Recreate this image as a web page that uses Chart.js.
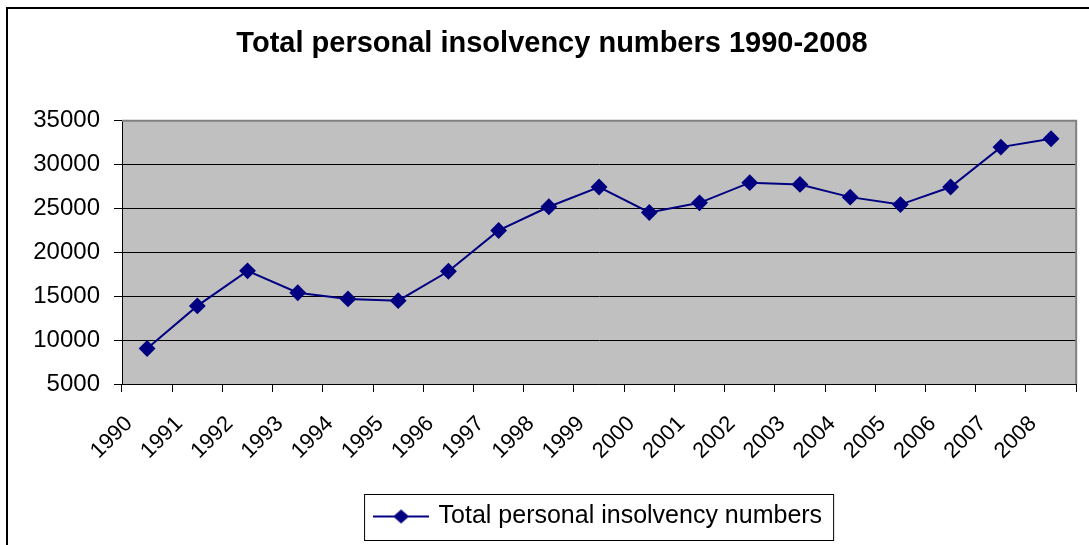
<!DOCTYPE html>
<html>
<head>
<meta charset="utf-8">
<script src="https://cdn.jsdelivr.net/npm/chart.js@4.4.1/dist/chart.umd.min.js"></script>
<style>
  html, body { margin: 0; padding: 0; background: #fff; }
  #wrap { position: relative; width: 1089px; height: 545px; }
</style>
</head>
<body>
<div id="wrap"><canvas id="chart" width="1089" height="545"></canvas></div>
<script>
const years = ['1990', '1991', '1992', '1993', '1994', '1995', '1996', '1997', '1998', '1999',
  '2000', '2001', '2002', '2003', '2004', '2005', '2006', '2007', '2008']
const insolvencies = [9050, 13900, 17900, 15400, 14700, 14500, 17850, 22500, 25200, 27450,
  24550, 25650, 27950, 27750, 26300, 25450, 27450, 32000, 32950]
const yTicks = [5000, 10000, 15000, 20000, 25000, 30000, 35000]

const NAVY = '#000080'
const FONT = 'Liberation Sans, Arial, sans-serif'

// legend sample: short line with a diamond in the middle
function legendSample() {
  const c = document.createElement('canvas')
  c.width = 56
  c.height = 18
  const g = c.getContext('2d')
  g.strokeStyle = NAVY
  g.lineWidth = 2
  g.beginPath()
  g.moveTo(0, 9)
  g.lineTo(56, 9)
  g.stroke()
  g.fillStyle = NAVY
  g.beginPath()
  g.moveTo(28, 2)
  g.lineTo(36, 9)
  g.lineTo(28, 16)
  g.lineTo(20, 9)
  g.closePath()
  g.fill()
  return c
}

const plotBackdrop = {
  id: 'plotBackdrop',
  beforeDraw(chart) {
    const { ctx, chartArea: a } = chart
    ctx.save()
    ctx.fillStyle = '#C0C0C0'
    ctx.fillRect(a.left, a.top, a.right - a.left, a.bottom - a.top)
    ctx.restore()
  },
  afterDraw(chart) {
    const { ctx, chartArea: a } = chart
    ctx.save()
    // grey frame top + right of plot
    ctx.strokeStyle = '#808080'
    ctx.lineWidth = 2
    ctx.beginPath()
    ctx.moveTo(a.left, a.top)
    ctx.lineTo(a.right, a.top)
    ctx.lineTo(a.right, a.bottom)
    ctx.stroke()
    // outer chart frame (only left/top are in view)
    ctx.strokeStyle = '#000'
    ctx.lineWidth = 2
    ctx.beginPath()
    ctx.moveTo(7, chart.height)
    ctx.lineTo(7, 8)
    ctx.lineTo(chart.width, 8)
    ctx.stroke()
    // legend box
    const hb = chart.legend.legendHitBoxes[0]
    if (hb) {
      ctx.strokeStyle = '#000'
      ctx.lineWidth = 1
      const cy = hb.top + hb.height / 2
      ctx.strokeRect(hb.left - 11.5, Math.round(cy - 23) + 0.5, hb.width + 23, 46)
    }
    ctx.restore()
  }
}

const sample = legendSample()

new Chart(document.getElementById('chart'), {
  type: 'line',
  data: {
    labels: years,
    datasets: [{
      label: 'Total personal insolvency numbers',
      data: insolvencies,
      borderColor: NAVY,
      backgroundColor: NAVY,
      borderWidth: 2,
      pointStyle: 'rectRot',
      pointRadius: 7,
      pointHoverRadius: 7,
      pointBackgroundColor: NAVY,
      pointBorderColor: NAVY,
      tension: 0,
    }],
  },
  options: {
    responsive: false,
    animation: false,
    layout: { padding: { left: 15, right: 0, top: 0, bottom: 6 } },
    plugins: {
      title: {
        display: true,
        text: 'Total personal insolvency numbers 1990-2008',
        color: '#000',
        font: { family: FONT, size: 29, weight: 'bold' },
        padding: { top: 27, bottom: 59 },
      },
      legend: {
        position: 'bottom',
        fullSize: false,
        labels: {
          color: '#000',
          font: { family: FONT, size: 25 },
          usePointStyle: true,
          pointStyleWidth: 50,
          padding: 8,
          generateLabels: chart => [{
            text: chart.data.datasets[0].label,
            pointStyle: sample,
            fillStyle: NAVY,
            strokeStyle: NAVY,
            lineWidth: 0,
            datasetIndex: 0,
          }],
        },
      },
      tooltip: { enabled: false },
    },
    scales: {
      x: {
        offset: true,
        grid: { drawOnChartArea: false, offset: true, tickLength: 8, tickColor: '#000' },
        border: { color: '#000', width: 1 },
        ticks: {
          color: '#000',
          font: { family: FONT, size: 22 },
          maxRotation: 45,
          minRotation: 45,
          autoSkip: false,
          padding: 19,
          labelOffset: -18,
        },
        afterFit: s => { s.height = 112 },
      },
      y: {
        min: 5000,
        max: 35000,
        afterBuildTicks: s => { s.ticks = yTicks.map(v => ({ value: v })) },
        grid: {
          color: c => (c.tick && c.tick.value === 35000 ? 'rgba(0,0,0,0)' : '#000'),
          tickColor: '#000',
          tickLength: 8,
          lineWidth: 1,
        },
        border: { color: '#000', width: 1 },
        ticks: {
          color: '#000',
          font: { family: FONT, size: 24 },
          padding: 14,
          callback: v => String(v),
        },
        afterFit: s => { s.width = 107 },
      },
      yRight: {
        position: 'right',
        display: true,
        grid: { drawOnChartArea: false, drawTicks: false },
        border: { display: false },
        ticks: { display: false },
        afterFit: s => { s.width = 10 },
      },
    },
  },
  plugins: [plotBackdrop],
})
</script>
</body>
</html>
